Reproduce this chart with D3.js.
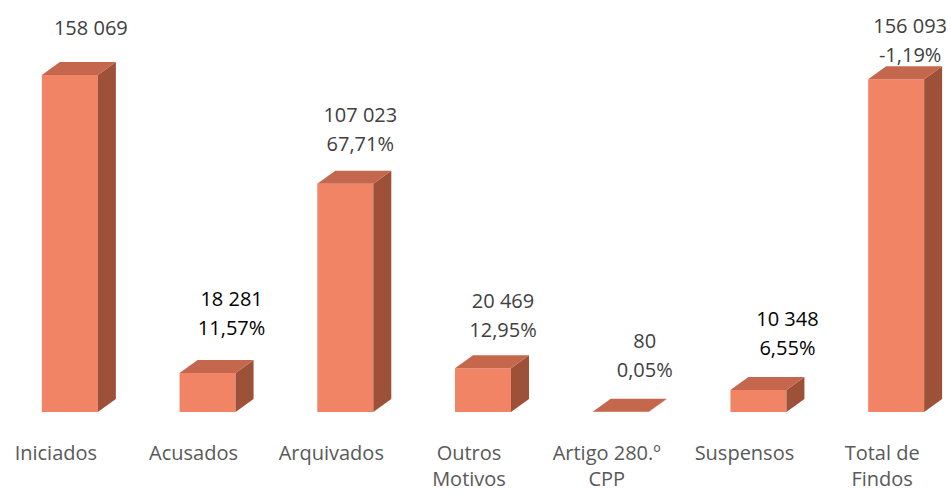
<!DOCTYPE html>
<html>
<head>
<meta charset="utf-8">
<script src="https://cdn.jsdelivr.net/npm/d3@7"></script>
<style>
  html, body { margin: 0; padding: 0; background: #ffffff; }
  svg { display: block; }
  text { font-family: "Open Sans", "Noto Sans", sans-serif; }
</style>
</head>
<body>
<svg id="chart" width="951" height="491"></svg>
<script>
// ---- data ----
const categories = [["Iniciados"], ["Acusados"], ["Arquivados"], ["Outros", "Motivos"], ["Artigo 280.º", "CPP"], ["Suspensos"], ["Total de", "Findos"]];
const values = [158069, 18281, 107023, 20469, 80, 10348, 156093];
const percentLabels = [null, "11,57%", "67,71%", "12,95%", "0,05%", "6,55%", "-1,19%"];

// ---- layout tweaks (label placement as in the original) ----
const labelDx = [49, 52, 43, 48, 52, 57, 42];       // from bar front-left edge
const labelRise = [27, 54, 49, 47, 51, 51, 33];      // first baseline above bar back-top
const valueColor = ["#404040", "#000000", "#404040", "#404040", "#404040", "#000000", "#404040"];

const W = 951, H = 491;
const svg = d3.select("#chart");

const x = d3.scaleBand()
  .domain(d3.range(categories.length))
  .range([-13, 951])
  .paddingInner(0)
  .paddingOuter(0);

const y = d3.scaleLinear().domain([0, 158069]).range([412, 75]);

const frontW = 56, depthX = 18, depthY = 13;
const bw = x.bandwidth();
const frontLeft = i => x(i) + bw / 2 - 14;

const colors = { front: "#F28466", side: "#9E5139", top: "#C4674C" };

const fmt = v => d3.format(",")(v).replace(/,/g, " ");

const g = svg.append("g");

values.forEach((v, i) => {
  const x0 = frontLeft(i), x1 = x0 + frontW;
  const yb = y(0), yt = y(v);
  const bar = g.append("g");
  bar.append("polygon")
    .attr("points", [[x0, yt], [x1, yt], [x1, yb], [x0, yb]].map(p => p.join(",")).join(" "))
    .attr("fill", colors.front);
  bar.append("polygon")
    .attr("points", [[x1, yt], [x1 + depthX, yt - depthY], [x1 + depthX, yb - depthY], [x1, yb]].map(p => p.join(",")).join(" "))
    .attr("fill", colors.side);
  bar.append("polygon")
    .attr("points", [[x0, yt], [x0 + depthX, yt - depthY], [x1 + depthX, yt - depthY], [x1, yt]].map(p => p.join(",")).join(" "))
    .attr("fill", colors.top);

  const lx = x0 + labelDx[i];
  const by = yt - depthY - labelRise[i];
  const t = g.append("text")
    .attr("text-anchor", "middle")
    .attr("font-size", 20)
    .attr("fill", valueColor[i]);
  t.append("tspan").attr("x", lx).attr("y", by).text(fmt(v));
  if (percentLabels[i]) {
    t.append("tspan").attr("x", lx).attr("y", by + 29).text(percentLabels[i]);
  }
});

categories.forEach((lines, i) => {
  const cx = x(i) + bw / 2;
  const t = svg.append("text")
    .attr("text-anchor", "middle")
    .attr("font-size", 20)
    .attr("fill", "#595959");
  lines.forEach((ln, k) => {
    t.append("tspan").attr("x", cx).attr("y", 460 + k * 26).text(ln);
  });
});
</script>
</body>
</html>
